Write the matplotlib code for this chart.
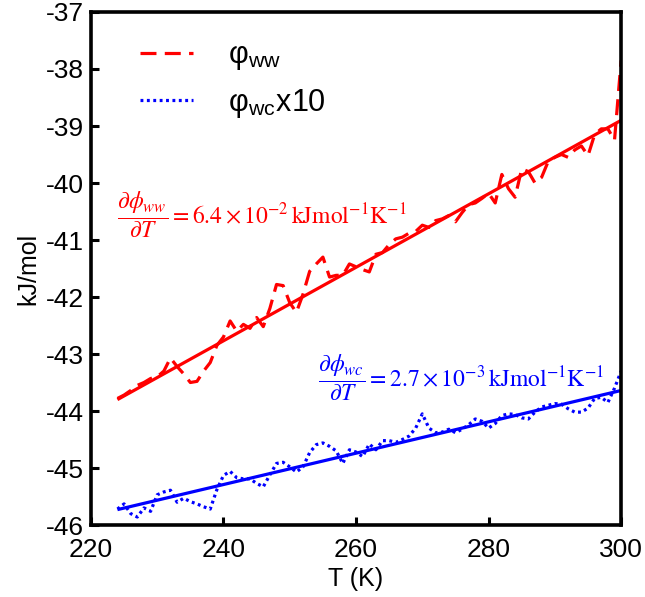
import matplotlib
matplotlib.use("Agg")
import matplotlib.pyplot as plt
import numpy as np

plt.rcParams['font.family'] = ['Liberation Sans', 'DejaVu Sans']
plt.rcParams['mathtext.fontset'] = 'stix'

# Temperatures (K)
T = list(range(224, 301))

# phi_ww (kJ/mol)
phi_ww = [-43.78, -43.72, -43.64, -43.55, -43.50, -43.43, -43.40, -43.30, -43.07, -43.22,
          -43.35, -43.50, -43.48, -43.30, -43.15, -42.85, -42.70, -42.42, -42.60, -42.48,
          -42.55, -42.36, -42.52, -42.20, -41.78, -41.80, -42.10, -42.27, -41.95, -41.55,
          -41.42, -41.30, -41.65, -41.62, -41.62, -41.42, -41.47, -41.52, -41.56, -41.25,
          -41.22, -41.08, -40.98, -40.95, -40.88, -40.85, -40.74, -40.78, -40.66, -40.63,
          -40.57, -40.68, -40.52, -40.38, -40.35, -40.27, -40.18, -40.35, -39.85, -40.10,
          -40.25, -39.75, -39.80, -40.00, -39.90, -39.62, -39.55, -39.50, -39.55, -39.42,
          -39.35, -39.52, -39.15, -39.05, -39.05, -39.25, -37.85]

# phi_wc x10 (kJ/mol)
phi_wc = [-45.72, -45.63, -45.80, -45.86, -45.70, -45.76, -45.47, -45.42, -45.39, -45.60,
          -45.53, -45.59, -45.63, -45.68, -45.72, -45.38, -45.13, -45.06, -45.17, -45.19,
          -45.19, -45.27, -45.33, -45.12, -44.92, -44.90, -44.98, -45.07, -44.98, -44.73,
          -44.59, -44.56, -44.62, -44.70, -44.92, -44.68, -44.72, -44.80, -44.58, -44.68,
          -44.52, -44.52, -44.55, -44.50, -44.44, -44.30, -44.05, -44.30, -44.38, -44.37,
          -44.32, -44.38, -44.32, -44.24, -44.14, -44.18, -44.30, -44.22, -44.08, -44.05,
          -44.06, -44.12, -44.14, -44.02, -43.93, -43.90, -43.87, -43.88, -43.96, -44.02,
          -44.02, -43.95, -43.78, -43.76, -43.85, -43.60, -43.30]

# linear fits (end points)
fit_T = [224, 300]
fit_ww = [-43.80, -38.90]
fit_wc = [-45.73, -43.64]

xticks = [220, 240, 260, 280, 300]
yticks = [-46, -45, -44, -43, -42, -41, -40, -39, -38, -37]

fig = plt.figure(figsize=(6.45, 5.97), dpi=100)
ax = fig.add_axes([0.141, 0.1206, 0.822, 0.8593])

ax.plot(fit_T, fit_ww, color='#ff0000', lw=2.3, solid_capstyle='butt')
ax.plot(fit_T, fit_wc, color='#0000ff', lw=2.3, solid_capstyle='butt')
l1, = ax.plot(T, phi_ww, color='#ff0000', lw=2.3, dashes=(5, 2.6),
              label='φ$_{\\mathregular{ww}}$')
l2, = ax.plot(T, phi_wc, color='#0000ff', lw=2.3, dashes=(0.9, 1.1),
              label='φ$_{\\mathregular{wc}}$x10')

ax.set_xlim(220, 300)
ax.set_ylim(-46, -37)
ax.set_xticks(xticks)
ax.set_yticks(yticks)
ax.set_xticklabels([str(v) for v in xticks])
ax.set_yticklabels([str(v) for v in yticks])
ax.tick_params(direction='in', length=6, width=2.2, labelsize=19)
ax.tick_params(axis='x', pad=9)
ax.tick_params(axis='y', pad=5)
for s in ax.spines.values():
    s.set_linewidth(2.6)

ax.set_xlabel('T (K)', fontsize=18, labelpad=4)
ax.set_ylabel('kJ/mol', fontsize=18, labelpad=4)

leg = ax.legend(handles=[l1, l2], loc='upper left', bbox_to_anchor=(0.092, 0.945),
                frameon=False, fontsize=22, handlelength=1.75, handletextpad=1.15,
                labelspacing=0.48, borderpad=0, borderaxespad=0)

ax.text(0.049, 0.604,
        r'$\dfrac{\partial\phi_{ww}}{\partial T} = 6.4\times10^{-2}\,\mathrm{kJmol^{-1}K^{-1}}$',
        transform=ax.transAxes, color='#ff0000', fontsize=17, ha='left', va='center')
ax.text(0.428, 0.2865,
        r'$\dfrac{\partial\phi_{wc}}{\partial T} = 2.7\times10^{-3}\,\mathrm{kJmol^{-1}K^{-1}}$',
        transform=ax.transAxes, color='#0000ff', fontsize=17, ha='left', va='center')

fig.savefig('out.png', dpi=100)
